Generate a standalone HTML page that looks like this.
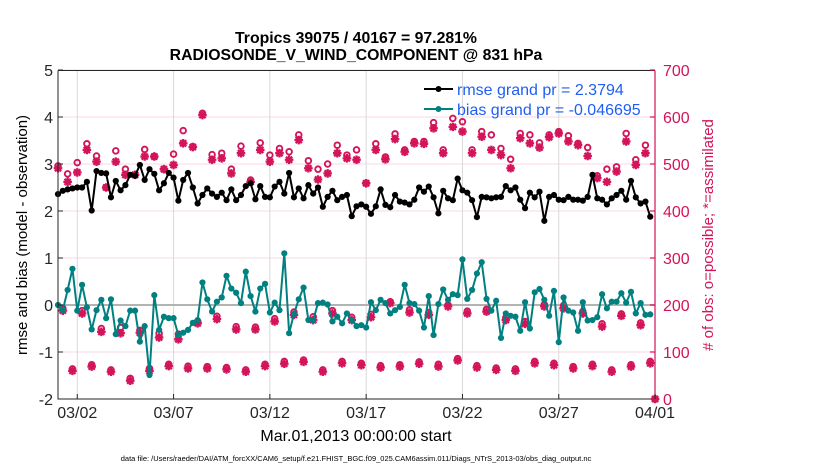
<!DOCTYPE html>
<html><head><meta charset="utf-8">
<style>
html,body{margin:0;padding:0;background:#fff;}
svg{display:block;font-family:"Liberation Sans",Arial,sans-serif;}
</style></head>
<body>
<svg id="chart" width="830" height="470" viewBox="0 0 830 470" xmlns="http://www.w3.org/2000/svg">
  <text x="356" y="43" text-anchor="middle" font-size="15.8" font-weight="bold">Tropics 39075 / 40167 = 97.281%</text>
  <text x="356" y="60" text-anchor="middle" font-size="15.8" font-weight="bold">RADIOSONDE_V_WIND_COMPONENT @ 831 hPa</text>
  <g id="grid"></g>
  <g id="marks"></g>
  <g id="axes"></g>
  <text transform="translate(27,235) rotate(-90)" text-anchor="middle" font-size="15">rmse and bias (model - observation)</text>
  <text transform="translate(713,235) rotate(-90)" text-anchor="middle" font-size="15" fill="#d4145a"># of obs: o=possible; *=assimilated</text>
  <text x="356" y="441" text-anchor="middle" font-size="16">Mar.01,2013 00:00:00 start</text>
  <text x="356" y="461" text-anchor="middle" font-size="7.5">data file: /Users/raeder/DAI/ATM_forcXX/CAM6_setup/f.e21.FHIST_BGC.f09_025.CAM6assim.011/Diags_NTrS_2013-03/obs_diag_output.nc</text>
  <g>
    <line x1="424" y1="89" x2="453" y2="89" stroke="#000" stroke-width="2"/>
    <circle cx="438.5" cy="89" r="3" fill="#000"/>
    <text x="457" y="95" font-size="16" fill="#1f5ef5">rmse grand pr = 2.3794</text>
    <line x1="424" y1="109" x2="453" y2="109" stroke="#008080" stroke-width="2"/>
    <circle cx="438.5" cy="109" r="3" fill="#008080"/>
    <text x="457" y="115" font-size="16" fill="#1f5ef5">bias grand pr = -0.046695</text>
  </g>
</svg>
<script>
const rmseValues=[2.36,2.43,2.46,2.48,2.50,2.50,2.62,2.01,2.85,2.81,2.80,2.29,2.64,2.44,2.55,2.77,2.75,2.98,2.66,2.89,2.79,2.44,2.59,2.81,2.71,2.22,2.66,2.81,2.50,2.16,2.34,2.48,
2.37,2.30,2.39,2.23,2.46,2.23,2.34,2.53,2.59,2.25,2.53,2.30,2.29,2.52,2.62,2.37,2.81,2.29,2.48,2.27,2.55,2.37,2.50,2.09,2.30,2.43,2.23,2.30,2.34,1.89,2.10,
2.14,2.09,1.94,2.10,2.46,2.13,2.08,2.34,2.20,2.18,2.14,2.24,2.50,2.41,2.52,2.29,1.95,2.43,2.27,2.23,2.69,2.44,2.39,2.23,1.87,2.30,2.29,2.27,2.29,2.30,2.53,
2.44,2.50,2.24,2.06,2.39,2.29,2.41,1.79,2.30,2.34,2.24,2.23,2.30,2.24,2.24,2.22,2.30,2.77,2.27,2.24,2.14,2.27,2.34,2.43,2.24,2.64,2.29,2.16,2.20,1.88];
const biasValues=[0,-0.11,0.32,0.77,-0.12,0.43,-0.05,-0.52,-0.11,0.11,-0.28,0.12,-0.62,-0.33,-0.45,-0.12,-0.12,-0.78,-0.45,-1.49,0.21,-0.53,-0.25,-0.28,-0.28,-0.64,-0.59,-0.53,-0.38,-0.32,0.48,0.12,
-0.14,0.07,0.16,0.62,0.35,0.26,0.04,0.71,0.19,-0.14,0.35,0.45,-0.16,0.05,-0.11,1.10,-0.60,-0.19,0.12,0.37,-0.32,-0.32,0.04,0.05,0.01,-0.35,-0.25,-0.39,-0.18,-0.32,-0.45,
-0.43,-0.48,0.06,-0.11,0.11,0.04,-0.18,-0.11,-0.04,0.43,0.04,0.02,-0.12,-0.48,0.19,-0.64,0.02,0.33,0.11,0.23,0.21,0.97,0.13,0.32,0.67,0.91,0.13,-0.12,0.09,-0.70,-0.18,
-0.23,-0.25,-0.55,0.06,-0.50,0.27,0.34,0.11,-0.23,0.30,-0.79,0.16,-0.12,-0.16,-0.55,0.06,-0.33,-0.32,-0.26,0.23,-0.07,0.07,0.07,0.25,0.05,0.28,-0.18,0.04,-0.21,-0.20];
const assimCounts=[491,188,462,60,482,182,530,69,505,143,450,58,505,140,477,39,477,141,516,60,516,131,489,70,498,127,544,65,536,161,604,65,
509,170,512,63,480,148,523,58,462,148,530,70,505,165,523,75,509,179,551,79,491,168,467,58,480,182,523,76,512,168,509,72,
459,174,530,67,510,204,553,69,526,184,544,75,543,179,576,69,523,197,579,82,569,182,523,67,558,186,530,62,519,168,
491,60,555,160,544,76,535,197,557,72,565,193,548,65,540,182,517,70,470,154,462,58,484,177,548,69,498,157,523,76,0];
const possCounts=[496,193,479,64,503,188,543,73,517,150,450,62,528,152,489,44,477,146,531,65,516,140,489,74,521,138,571,70,537,165,608,69,
520,176,523,67,489,154,538,62,466,153,545,74,519,171,533,80,526,185,562,83,507,175,489,62,500,188,540,80,519,174,530,76,
459,180,543,71,515,207,564,73,530,190,548,79,548,184,588,74,530,200,597,86,590,187,530,71,569,191,562,66,533,173,
510,64,565,165,562,80,545,201,562,76,569,199,560,69,544,186,535,74,475,160,489,62,494,181,565,73,509,162,540,80,0];
const dateTickLabels=["03/02","03/07","03/12","03/17","03/22","03/27","04/01"];
const dateTickDays=[1,6,11,16,21,26,31];
const leftTicks=[5,4,3,2,1,0,-1,-2];
const rightTicks=[700,600,500,400,300,200,100,0];
const stepDays=0.25;

const NS="http://www.w3.org/2000/svg";
const L=58,R=655,T=70.5,B=399;
function xS(d){return L+d*19.26;}
function yL(v){return 305-47*v;}
function yR(c){return yL(c/100-2);}
function mk(tag,attrs,parent){const e=document.createElementNS(NS,tag);for(const k in attrs)e.setAttribute(k,attrs[k]);parent.appendChild(e);return e;}
const gridG=document.getElementById('grid'),marksG=document.getElementById('marks'),axesG=document.getElementById('axes');

rightTicks.forEach(c=>{const g=mk('line',{x1:L,x2:R,y1:yR(c),y2:yR(c),stroke:'#f6d8e4','stroke-width':1},gridG);

});
dateTickDays.forEach(d=>{const g=mk('line',{x1:xS(d),x2:xS(d),y1:T,y2:B,stroke:'#d9d9d9','stroke-width':1},gridG);

});
const zl=mk('line',{x1:L,x2:R,y1:yL(0),y2:yL(0),stroke:'#b3b3b3','stroke-width':2},gridG);



const pink='#d4145a';
possCounts.forEach((c,i)=>{const cx=xS(i*stepDays),cy=yR(c);
const o=mk('circle',{cx:cx,cy:cy,r:2.8,fill:'none',stroke:pink,'stroke-width':1.9},marksG);

});
assimCounts.forEach((c,i)=>{const cx=xS(i*stepDays),cy=yR(c),s=4.3,d=3.1;
const g=mk('path',{d:`M${cx-s},${cy}H${cx+s}M${cx},${cy-s}V${cy+s}M${cx-d},${cy-d}L${cx+d},${cy+d}M${cx-d},${cy+d}L${cx+d},${cy-d}`,stroke:pink,'stroke-width':2.3,fill:'none'},marksG);

});

function series(vals,color,name){
 const pts=vals.map((v,i)=>xS(i*stepDays).toFixed(2)+','+yL(v).toFixed(2)).join(' ');
 const pl=mk('polyline',{points:pts,fill:'none',stroke:color,'stroke-width':2,'stroke-linejoin':'round'},marksG);
 
 
 vals.forEach((v,i)=>{const c=mk('circle',{cx:xS(i*stepDays),cy:yL(v),r:3.1,fill:color},marksG);
 
 });
}
series(biasValues,'#008080','bias');
series(rmseValues,'#000000','rmse');

const ax=mk('path',{d:`M${L},${T}V${B}H${R}`,stroke:'#262626','stroke-width':1,fill:'none'},axesG);


const topLine=mk('line',{x1:L,x2:R,y1:T,y2:T,stroke:'#262626','stroke-width':1},axesG);


const ra=mk('line',{x1:R,x2:R,y1:T,y2:B,stroke:pink,'stroke-width':1.2},axesG);


leftTicks.forEach(v=>{const y=yL(v);
 const tk=mk('line',{x1:L,x2:L+5,y1:y,y2:y,stroke:'#262626'},axesG);
 
 
 const t=mk('text',{x:L-5,y:y+6,'text-anchor':'end','font-size':16,fill:'#262626'},axesG);t.textContent=v;
 
 });
rightTicks.forEach(c=>{const y=yR(c);
 const tk=mk('line',{x1:R-5,x2:R,y1:y,y2:y,stroke:pink,'stroke-width':1.2},axesG);
 
 
 const t=mk('text',{x:R+8,y:y+6,'font-size':16,fill:pink},axesG);t.textContent=c;
 
 });
dateTickDays.forEach((d,i)=>{const x=xS(d);
 const tk=mk('line',{x1:x,x2:x,y1:B,y2:B-5,stroke:'#262626'},axesG);
 
 
 const t=mk('text',{x:x,y:418,'text-anchor':'middle','font-size':16,fill:'#262626'},axesG);t.textContent=dateTickLabels[i];
 
 });
</script>
</body></html>
